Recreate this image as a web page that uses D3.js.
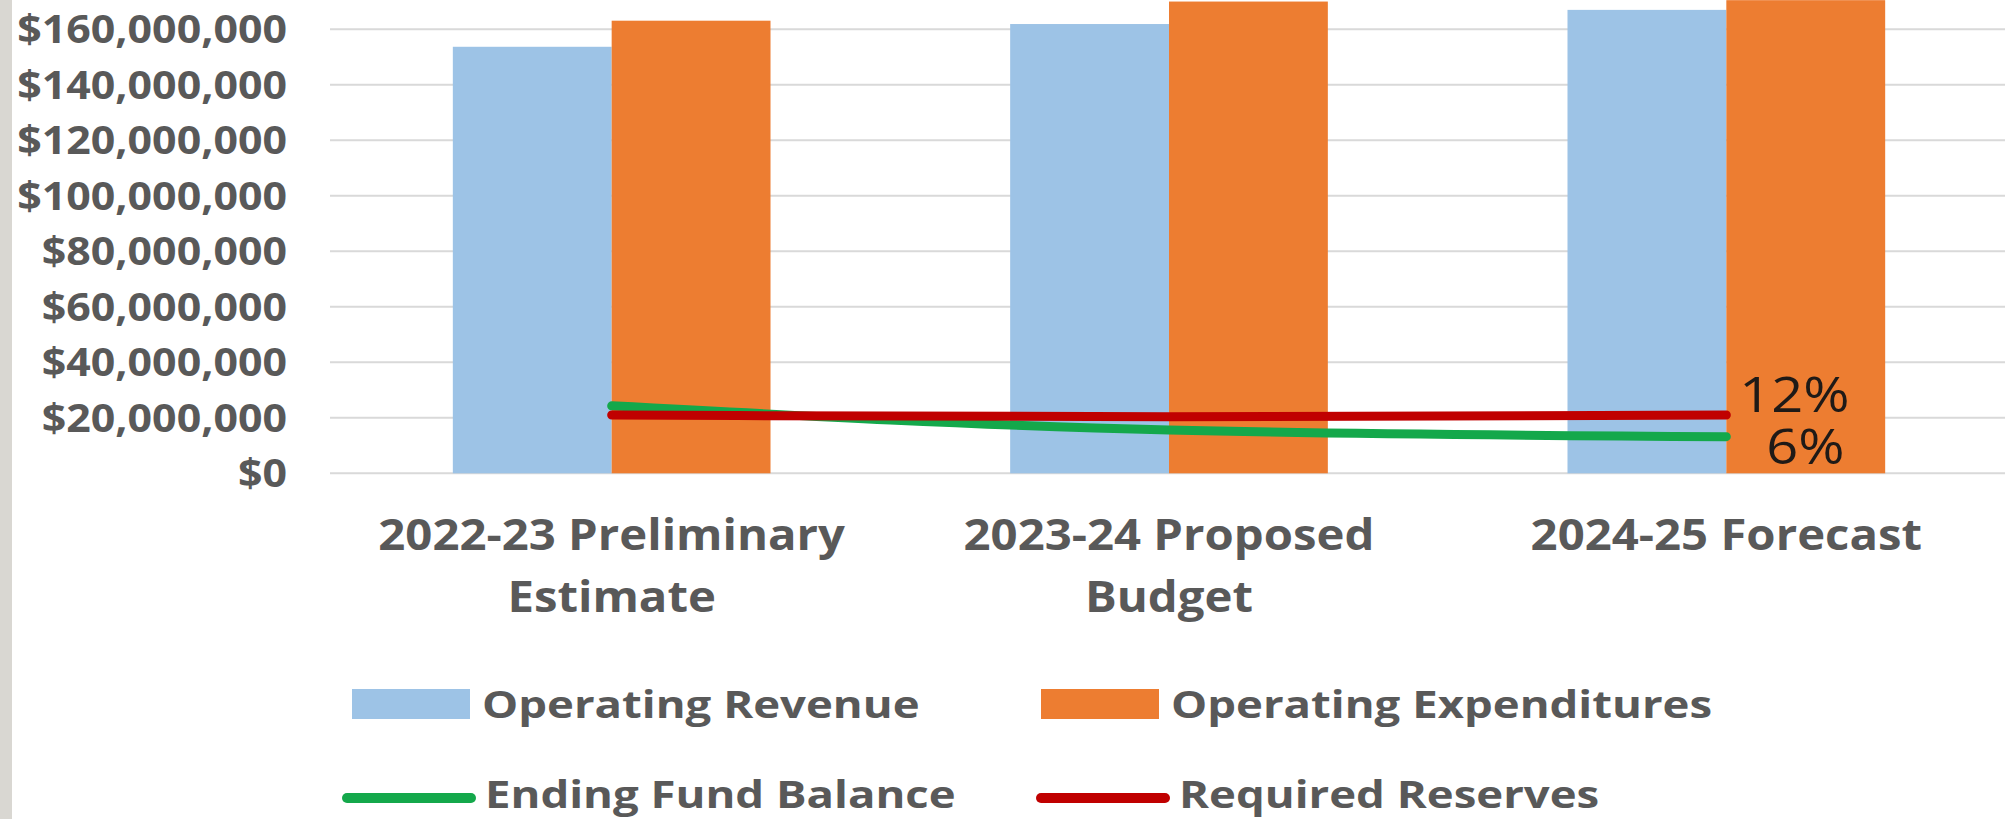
<!DOCTYPE html>
<html>
<head>
<meta charset="utf-8">
<script src="https://cdn.jsdelivr.net/npm/d3@7"></script>
<style>
  html, body { margin: 0; padding: 0; background: #fff; }
  svg { display: block; }
  text { font-family: "Open Sans", Lato, sans-serif; }
</style>
</head>
<body>
<svg id="chart"></svg>
<script>
// categories and series (dollars)
const categories = ["2022-23 Preliminary Estimate", "2023-24 Proposed Budget", "2024-25 Forecast"];
const categoryLines = [["2022-23 Preliminary", "Estimate"], ["2023-24 Proposed", "Budget"], ["2024-25 Forecast"]];
const revenue = [153700000, 161900000, 167000000];
const expenditures = [163100000, 170000000, 170500000];
const fundBalance = [24300000, 15600000, 13200000];
const reserves = [21000000, 20400000, 21000000];
const yTicks = [0, 20000000, 40000000, 60000000, 80000000, 100000000, 120000000, 140000000, 160000000];
const lineLabels = { reserves: "12%", fundBalance: "6%" };

const W = 2005, H = 819;
const svg = d3.select("#chart").attr("width", W).attr("height", H);

// the source text is a little wider than the installed fonts, stretch it
function stretch(sel, k) {
  sel.each(function () {
    const w = this.getComputedTextLength();
    d3.select(this).attr("textLength", w * k).attr("lengthAdjust", "spacingAndGlyphs");
  });
}

// grey strip down the left edge
svg.append("rect").attr("x", 0).attr("y", 0).attr("width", 12).attr("height", H).attr("fill", "#d9d7d2");

const plotLeft = 333, plotRight = 2005;
const x0 = d3.scaleBand().domain(categories).range([plotLeft, plotRight]).paddingInner(0.43).paddingOuter(0.215);
const barSeries = ["Operating Revenue", "Operating Expenditures"];
const x1 = d3.scaleBand().domain(barSeries).range([0, x0.bandwidth()]);
const y = d3.scaleLinear().domain([0, 160000000]).range([473.3, 29.3]);
const colors = { "Operating Revenue": "#9dc3e6", "Operating Expenditures": "#ed7d31" };

// gridlines
svg.append("g").selectAll("line").data(yTicks).join("line")
  .attr("x1", 330).attr("x2", plotRight)
  .attr("y1", d => y(d)).attr("y2", d => y(d))
  .attr("stroke", "#d9d9d9").attr("stroke-width", 2);

// y labels
const fmt = d3.format("$,");
const yl = svg.append("g").selectAll("text").data(yTicks).join("text")
  .attr("x", 287).attr("y", d => y(d)).attr("dy", "0.36em")
  .attr("text-anchor", "end")
  .style("font-size", "39px").style("font-weight", "bold").attr("fill", "#595959")
  .text(d => fmt(d));
stretch(yl, 1.1);

// bars
const barRows = categories.map((c, i) => ({ cat: c, values: [revenue[i], expenditures[i]] }));
svg.append("g").selectAll("g").data(barRows).join("g")
  .attr("transform", d => `translate(${x0(d.cat)},0)`)
  .selectAll("rect").data(d => d.values.map((v, j) => ({ key: barSeries[j], v })))
  .join("rect")
  .attr("x", d => x1(d.key)).attr("width", x1.bandwidth())
  .attr("y", d => y(d.v)).attr("height", d => y(0) - y(d.v))
  .attr("fill", d => colors[d.key]);

// lines
const cx = c => x0(c) + x0.bandwidth() / 2;
const line = d3.line().x(d => cx(d.cat)).y(d => y(d.v)).curve(d3.curveMonotoneX);
const fundPts = categories.map((c, i) => ({ cat: c, v: fundBalance[i] }));
const resPts = categories.map((c, i) => ({ cat: c, v: reserves[i] }));
svg.append("path").datum(fundPts).attr("d", line)
  .attr("fill", "none").attr("stroke", "#14a84b").attr("stroke-width", 9).attr("stroke-linecap", "round");
svg.append("path").datum(resPts).attr("d", line)
  .attr("fill", "none").attr("stroke", "#c00000").attr("stroke-width", 9).attr("stroke-linecap", "round");

// percentage labels at the last points
const last = categories.length - 1;
const pct = svg.append("g").style("font-size", "50px").attr("fill", "#1f1a17");
pct.append("text")
  .attr("x", cx(categories[last]) + 13).attr("y", y(reserves[last]) - 3)
  .text(lineLabels.reserves);
pct.append("text")
  .attr("x", cx(categories[last]) + 40).attr("y", y(fundBalance[last]) + 27)
  .text(lineLabels.fundBalance);
stretch(pct.selectAll("text"), 1.12);

// category labels, one text per line
const catLabels = [];
categories.forEach((c, i) => categoryLines[i].forEach((t, j) => catLabels.push({ cat: c, t, j })));
const xl = svg.append("g").selectAll("text").data(catLabels).join("text")
  .attr("text-anchor", "middle")
  .attr("x", d => cx(d.cat)).attr("y", d => 550 + d.j * 62)
  .style("font-size", "43px").style("font-weight", "bold").attr("fill", "#595959")
  .text(d => d.t);
stretch(xl, 1.1);

// legend
const legend = [
  { name: "Operating Revenue", type: "box", color: colors["Operating Revenue"], x: 352, y: 704 },
  { name: "Operating Expenditures", type: "box", color: colors["Operating Expenditures"], x: 1041, y: 704 },
  { name: "Ending Fund Balance", type: "line", color: "#14a84b", x: 347, y: 798 },
  { name: "Required Reserves", type: "line", color: "#c00000", x: 1041, y: 798 }
];
const lg = svg.append("g").selectAll("g").data(legend).join("g")
  .attr("transform", d => `translate(${d.x},${d.y})`);
lg.filter(d => d.type === "box").append("rect")
  .attr("x", 0).attr("y", -15).attr("width", 118).attr("height", 30).attr("fill", d => d.color);
lg.filter(d => d.type === "line").append("line")
  .attr("x1", 0).attr("x2", 124).attr("y1", 0).attr("y2", 0)
  .attr("stroke", d => d.color).attr("stroke-width", 10).attr("stroke-linecap", "round");
const lt = lg.append("text")
  .attr("x", d => d.type === "box" ? 130 : 138).attr("y", d => d.type === "box" ? 14 : 10)
  .style("font-size", "37px").style("font-weight", "bold").attr("fill", "#595959")
  .text(d => d.name);
stretch(lt, 1.23);
</script>
</body>
</html>
